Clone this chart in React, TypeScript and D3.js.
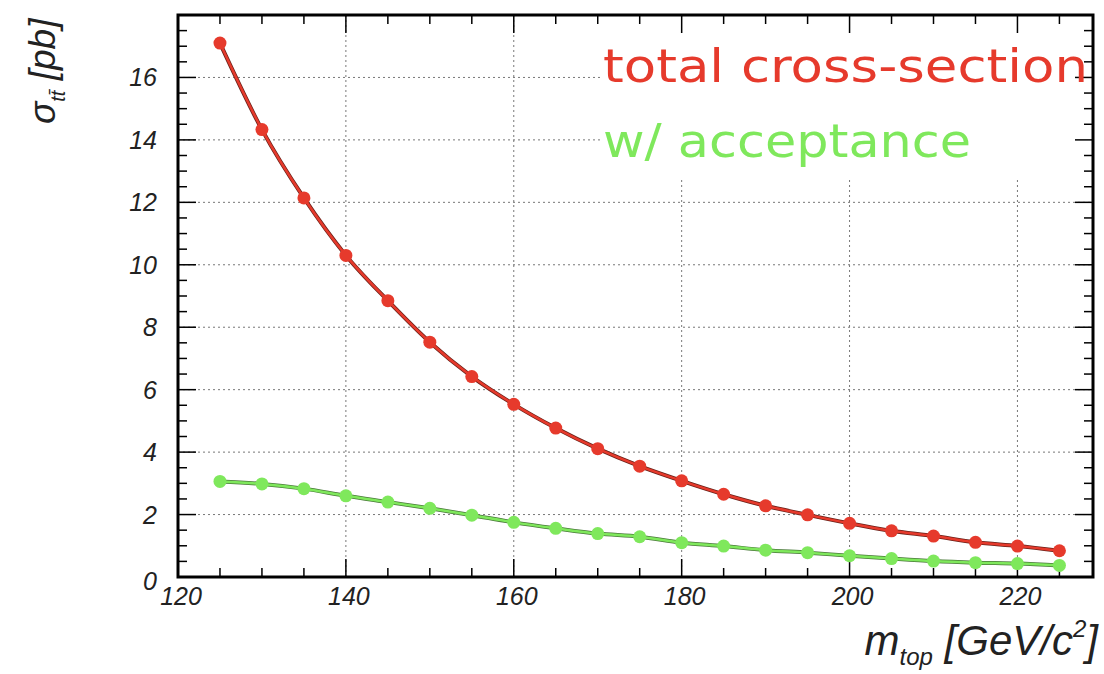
import React from "react";
import * as d3 from "d3";

const masses = [125,130,135,140,145,150,155,160,165,170,175,180,185,190,195,200,205,210,215,220,225];
const totalXs = [17.1,14.33,12.14,10.3,8.85,7.52,6.42,5.53,4.77,4.11,3.55,3.08,2.65,2.28,1.99,1.72,1.48,1.31,1.11,0.99,0.84];
const acceptXs = [3.06,2.98,2.83,2.6,2.4,2.2,1.98,1.75,1.56,1.39,1.29,1.1,0.99,0.86,0.78,0.68,0.59,0.51,0.46,0.43,0.37];
const xTicks = [120,140,160,180,200,220];
const yTicks = [0,2,4,6,8,10,12,14,16];

const W = 1104, H = 674;
const L = 178, R = 1093, T = 15, B = 577;

export default function App() {
  const x = d3.scaleLinear().domain([120, 229]).range([L, R]);
  const y = d3.scaleLinear().domain([0, 18]).range([B, T]);
  const line = d3.line<number>().x((_, i) => x(masses[i])).y(d => y(d)).curve(d3.curveMonotoneX);
  const xMinor = d3.range(120, 229, 5);
  const yMinor = d3.range(0, 18.01, 0.5);
  const red = "#e63a2c", green = "#7fe85c";
  const font = "'Liberation Sans', Arial, sans-serif";
  return (
    <svg width={W} height={H} style={{ position: "absolute", left: 0, top: 0, background: "#fff" }}>
      <rect x={0} y={0} width={W} height={H} fill="#fff" />
      {/* grid */}
      {xTicks.filter(t => t > 120).map(t => (
        <line key={"gx" + t} x1={x(t)} x2={x(t)} y1={B} y2={T} stroke="#777" strokeWidth={1} strokeDasharray="2,3" />
      ))}
      {yTicks.filter(t => t > 0).map(t => (
        <line key={"gy" + t} x1={L} x2={R} y1={y(t)} y2={y(t)} stroke="#777" strokeWidth={1} strokeDasharray="2,3" />
      ))}
      {/* legend box */}
      <rect x={600} y={T + 2} width={R - 602} height={160} fill="#fff" />
      {/* ticks */}
      {xMinor.map(t => {
        const len = t % 20 === 0 ? 18 : 9;
        return (
          <g key={"xt" + t}>
            <line x1={x(t)} x2={x(t)} y1={B} y2={B - len} stroke="#000" strokeWidth={1.5} />
            <line x1={x(t)} x2={x(t)} y1={T} y2={T + len} stroke="#000" strokeWidth={1.5} />
          </g>
        );
      })}
      {yMinor.map(t => {
        const len = Math.abs(t % 2) < 1e-6 ? 18 : 9;
        return (
          <g key={"yt" + t}>
            <line x1={L} x2={L + len} y1={y(t)} y2={y(t)} stroke="#000" strokeWidth={1.5} />
            <line x1={R} x2={R - len} y1={y(t)} y2={y(t)} stroke="#000" strokeWidth={1.5} />
          </g>
        );
      })}
      {/* frame */}
      <rect x={L} y={T} width={R - L} height={B - T} fill="none" stroke="#000" strokeWidth={3} />
      {/* series */}
      <path d={line(totalXs) || ""} fill="none" stroke="#6a2018" strokeWidth={4} />
      <path d={line(totalXs) || ""} fill="none" stroke={red} strokeWidth={2.5} />
      <path d={line(acceptXs) || ""} fill="none" stroke="#4a7a3a" strokeWidth={4} />
      <path d={line(acceptXs) || ""} fill="none" stroke={green} strokeWidth={2.5} />
      {totalXs.map((v, i) => (
        <circle key={"r" + i} cx={x(masses[i])} cy={y(v)} r={6.5} fill={red} />
      ))}
      {acceptXs.map((v, i) => (
        <circle key={"g" + i} cx={x(masses[i])} cy={y(v)} r={6.5} fill={green} />
      ))}
      {/* tick labels */}
      {xTicks.map(t => (
        <text key={"xl" + t} x={x(t) + 3} y={605} textAnchor="middle" fontFamily={font} fontStyle="italic" fontSize={25} fill="#222">{t}</text>
      ))}
      {yTicks.map(t => (
        t === 0 ? (
          <text key="yl0" x={157} y={590} textAnchor="end" fontFamily={font} fontStyle="italic" fontSize={25} fill="#222">0</text>
        ) : (
          <text key={"yl" + t} x={157} y={y(t) + 9} textAnchor="end" fontFamily={font} fontStyle="italic" fontSize={25} fill="#222">{t}</text>
        )
      ))}
      {/* axis titles */}
      <g transform="translate(55,124) rotate(-90)">
        <text x={0} y={0} fontFamily={font} fontStyle="italic" fontSize={37} fill="#222">
          <tspan>σ</tspan>
          <tspan fontSize={20} dy={10}>tt̄</tspan>
          <tspan dy={-10}> [pb]</tspan>
        </text>
      </g>
      <text x={1098} y={655} textAnchor="end" fontFamily={font} fontStyle="italic" fontSize={42} fill="#222">
        <tspan>m</tspan>
        <tspan fontSize={24} dy={10}>top</tspan>
        <tspan dy={-10}> [GeV/c</tspan>
        <tspan fontSize={24} dy={-18}>2</tspan>
        <tspan dy={18}>]</tspan>
      </text>
      {/* legend */}
      <text x={603} y={82} fontFamily="'DejaVu Sans', sans-serif" fontSize={46} fill={red} textLength={485} lengthAdjust="spacingAndGlyphs">total cross-section</text>
      <text x={603} y={157} fontFamily="'DejaVu Sans', sans-serif" fontSize={46} fill={green} textLength={368} lengthAdjust="spacingAndGlyphs">w/ acceptance</text>
    </svg>
  );
}
